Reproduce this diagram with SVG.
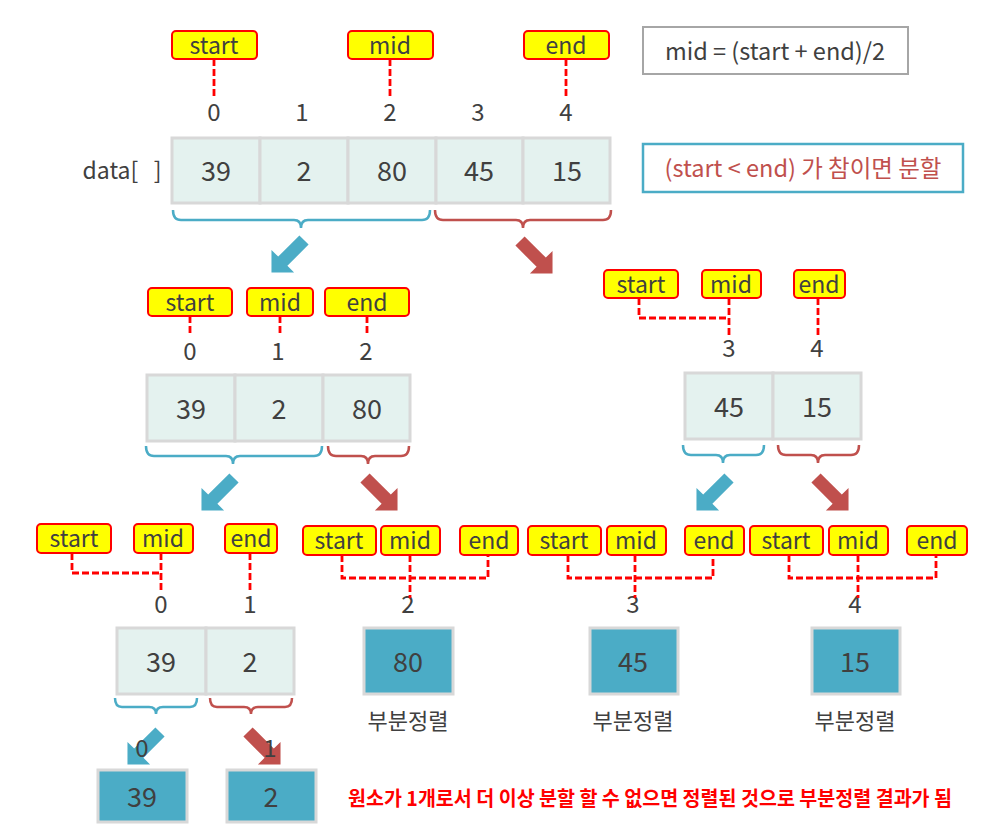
<svg xmlns="http://www.w3.org/2000/svg" width="989" height="832" viewBox="0 0 989 832">
<style>
text{font-family:"Noto Sans CJK KR","Noto Sans",sans-serif;fill:#404040;text-anchor:middle;dominant-baseline:central}
.lbl rect{fill:#FFFF00;stroke:#FF0000;stroke-width:2}
.lbl text{font-size:23px}
.dash{fill:none;stroke:#FF0000;stroke-width:2.8;stroke-dasharray:7 3}
.idx{font-size:24px}
.cell{fill:#E4F2EF;stroke:#D8D8D8;stroke-width:3}
.done{fill:#4BACC6;stroke:#D8D8D8;stroke-width:3}
.val{font-size:27px}
.bb{fill:none;stroke:#4BACC6;stroke-width:2.5}
.rb{fill:none;stroke:#C0504D;stroke-width:2.5}
.ba{fill:#4BACC6}
.ra{fill:#C0504D}
.kr{font-size:22px}
</style>
<defs>
<path id="arr" d="M0,-6.5 L30,-6.5 L30,-16 L46,0 L30,16 L30,6.5 L0,6.5 Z"/>
</defs>

<g id="formula">
<rect x="643" y="27" width="265" height="47" fill="#fff" stroke="#A6A6A6" stroke-width="2"/>
<text x="775" y="50" style="font-size:23.5px">mid = (start + end)/2</text>
</g>
<g id="condition">
<rect x="643" y="144" width="320" height="48" fill="#fff" stroke="#4BACC6" stroke-width="2.5"/>
<text x="803" y="167" style="font-size:23.5px;fill:#C0504D">(start &lt; end) 가 참이면 분할</text>
</g>

<!-- Level 1 -->
<g id="l1-labels">
<g class="lbl"><rect x="172" y="31" width="85" height="28" rx="4"/><text x="214" y="44">start</text></g>
<g class="lbl"><rect x="348" y="31" width="85" height="28" rx="4"/><text x="390" y="44">mid</text></g>
<g class="lbl"><rect x="524" y="31" width="85" height="28" rx="4"/><text x="566" y="44">end</text></g>
</g>
<g id="l1-index">
<text class="idx" x="214" y="110">0</text>
<text class="idx" x="302" y="110">1</text>
<text class="idx" x="390" y="110">2</text>
<text class="idx" x="478" y="110">3</text>
<text class="idx" x="566" y="110">4</text>
</g>
<g id="l1-array">
<text x="122" y="169" style="font-size:23px">data[&#160;&#160;&#160;]</text>
<rect class="cell" x="172" y="138" width="88" height="65"/>
<rect class="cell" x="260" y="138" width="88" height="65"/>
<rect class="cell" x="348" y="138" width="88" height="65"/>
<rect class="cell" x="436" y="138" width="87" height="65"/>
<rect class="cell" x="523" y="138" width="87" height="65"/>
<text class="val" x="216" y="169">39</text>
<text class="val" x="304" y="169">2</text>
<text class="val" x="392" y="169">80</text>
<text class="val" x="479" y="169">45</text>
<text class="val" x="567" y="169">15</text>
</g>

<!-- Level 2 left -->
<g id="l2a-labels">
<g class="lbl"><rect x="148" y="288" width="84" height="28" rx="4"/><text x="190" y="301">start</text></g>
<g class="lbl"><rect x="247" y="288" width="66" height="28" rx="4"/><text x="280" y="301">mid</text></g>
<g class="lbl"><rect x="325" y="288" width="84" height="28" rx="4"/><text x="367" y="301">end</text></g>
</g>
<g id="l2a-index">
<text class="idx" x="190" y="349">0</text>
<text class="idx" x="278" y="349">1</text>
<text class="idx" x="366" y="349">2</text>
</g>
<g id="l2a-array">
<rect class="cell" x="147" y="375" width="88" height="66"/>
<rect class="cell" x="235" y="375" width="88" height="66"/>
<rect class="cell" x="323" y="375" width="87" height="66"/>
<text class="val" x="191" y="407">39</text>
<text class="val" x="279" y="407">2</text>
<text class="val" x="367" y="407">80</text>
</g>

<!-- Level 2 right -->
<g id="l2b-labels">
<g class="lbl"><rect x="604" y="270" width="74" height="28" rx="4"/><text x="641" y="283">start</text></g>
<g class="lbl"><rect x="702" y="270" width="59" height="28" rx="4"/><text x="731" y="283">mid</text></g>
<g class="lbl"><rect x="794" y="270" width="51" height="28" rx="4"/><text x="819" y="283">end</text></g>
</g>
<g id="l2b-index">
<text class="idx" x="729" y="346">3</text>
<text class="idx" x="817" y="346">4</text>
</g>
<g id="l2b-array">
<rect class="cell" x="685" y="373" width="88" height="66"/>
<rect class="cell" x="773" y="373" width="88" height="66"/>
<text class="val" x="729" y="405">45</text>
<text class="val" x="817" y="405">15</text>
</g>

<!-- Level 3 groups -->
<g id="l3a-labels">
<g class="lbl"><rect x="37" y="524" width="74" height="29" rx="4"/><text x="74" y="537">start</text></g>
<g class="lbl"><rect x="134" y="524" width="59" height="29" rx="4"/><text x="163" y="537">mid</text></g>
<g class="lbl"><rect x="225" y="524" width="52" height="29" rx="4"/><text x="251" y="537">end</text></g>
</g>
<g id="l3b-labels">
<g class="lbl"><rect x="303" y="526" width="73" height="29" rx="4"/><text x="339" y="539">start</text></g>
<g class="lbl"><rect x="381" y="526" width="59" height="29" rx="4"/><text x="410" y="539">mid</text></g>
<g class="lbl"><rect x="460" y="526" width="58" height="29" rx="4"/><text x="489" y="539">end</text></g>
</g>
<g id="l3c-labels">
<g class="lbl"><rect x="528" y="526" width="73" height="29" rx="4"/><text x="564" y="539">start</text></g>
<g class="lbl"><rect x="607" y="526" width="59" height="29" rx="4"/><text x="636" y="539">mid</text></g>
<g class="lbl"><rect x="685" y="526" width="59" height="29" rx="4"/><text x="714" y="539">end</text></g>
</g>
<g id="l3d-labels">
<g class="lbl"><rect x="750" y="526" width="73" height="29" rx="4"/><text x="786" y="539">start</text></g>
<g class="lbl"><rect x="829" y="526" width="59" height="29" rx="4"/><text x="858" y="539">mid</text></g>
<g class="lbl"><rect x="907" y="526" width="60" height="29" rx="4"/><text x="937" y="539">end</text></g>
</g>
<g id="l3-index">
<text class="idx" x="161" y="602">0</text>
<text class="idx" x="250" y="602">1</text>
<text class="idx" x="408" y="602">2</text>
<text class="idx" x="633" y="602">3</text>
<text class="idx" x="855" y="602">4</text>
</g>
<g id="l3a-array">
<rect class="cell" x="117" y="628" width="89" height="66"/>
<rect class="cell" x="206" y="628" width="88" height="66"/>
<text class="val" x="161" y="660">39</text>
<text class="val" x="250" y="660">2</text>
</g>
<g id="l3b-sorted">
<rect class="done" x="364" y="628" width="89" height="66"/>
<text class="val" x="408" y="660">80</text>
<text class="kr" x="408" y="719">부분정렬</text>
</g>
<g id="l3c-sorted">
<rect class="done" x="590" y="628" width="88" height="66"/>
<text class="val" x="633" y="660">45</text>
<text class="kr" x="633" y="719">부분정렬</text>
</g>
<g id="l3d-sorted">
<rect class="done" x="812" y="628" width="88" height="66"/>
<text class="val" x="855" y="660">15</text>
<text class="kr" x="855" y="719">부분정렬</text>
</g>

<!-- Level 4 -->
<g id="l4-a">
<rect class="done" x="98" y="770" width="89" height="52"/>
<text class="val" x="142" y="795">39</text>
</g>
<g id="l4-b">
<rect class="done" x="227" y="770" width="89" height="52"/>
<text class="val" x="271" y="795">2</text>
</g>
<g id="note">
<text x="650" y="797" style="font-size:20px;font-weight:700;fill:#FF0000" textLength="604" lengthAdjust="spacingAndGlyphs">원소가 1개로서 더 이상 분할 할 수 없으면 정렬된 것으로 부분정렬 결과가 됨</text>
</g>

<g id="connectors">
<!-- dashed pointers -->
<path class="dash" d="M214,59 V98 M390,59 V98 M566,59 V98"/>
<path class="dash" d="M190,316 V336 M280,316 V336 M367,316 V336"/>
<path class="dash" d="M639,298 V318 H729 M729,298 V338 M818,298 V338"/>
<path class="dash" d="M72,553 V573 H161 M161,553 V593 M250,553 V593"/>
<path class="dash" d="M342,555 V578 H488 V555 M410,555 V598"/>
<path class="dash" d="M568,555 V578 H713 V555 M635,555 V598"/>
<path class="dash" d="M789,555 V578 H936 V555 M858,555 V598"/>
<!-- braces -->
<path class="bb" d="M173,210 Q173,220 181,220 L294,220 Q301,220 301,228 Q301,220 308,220 L422,220 Q430,220 430,210"/>
<path class="rb" d="M435,210 Q435,220 443,220 L516,220 Q523,220 523,228 Q523,220 530,220 L603,220 Q611,220 611,210"/>
<path class="bb" d="M146,446 Q146,456 154,456 L226,456 Q233,456 233,464 Q233,456 240,456 L314,456 Q322,456 322,446"/>
<path class="rb" d="M328,446 Q328,456 336,456 L361,456 Q368,456 368,464 Q368,456 375,456 L401,456 Q409,456 409,446"/>
<path class="bb" d="M683,445 Q683,455 691,455 L716,455 Q723,455 723,463 Q723,455 730,455 L756,455 Q764,455 764,445"/>
<path class="rb" d="M778,445 Q778,455 786,455 L811,455 Q818,455 818,463 Q818,455 825,455 L851,455 Q859,455 859,445"/>
<path class="bb" d="M115,698 Q115,707 122,707 L149,707 Q156,707 156,714 Q156,707 163,707 L190,707 Q197,707 197,698"/>
<path class="rb" d="M210,698 Q210,707 217,707 L244,707 Q251,707 251,714 Q251,707 258,707 L285,707 Q292,707 292,698"/>
<!-- block arrows -->
<use href="#arr" class="ba" transform="translate(304,240) rotate(135)"/>
<use href="#arr" class="ra" transform="translate(520,241) rotate(45)"/>
<use href="#arr" class="ba" transform="translate(234,478) rotate(135)"/>
<use href="#arr" class="ra" transform="translate(365,478) rotate(45)"/>
<use href="#arr" class="ba" transform="translate(729,478) rotate(135)"/>
<use href="#arr" class="ra" transform="translate(816,478) rotate(45)"/>
<use href="#arr" class="ba" transform="translate(160,732) rotate(135)"/>
<use href="#arr" class="ra" transform="translate(248,732) rotate(45)"/>
</g>
<g id="l4-index">
<text class="idx" x="142" y="746">0</text>
<text class="idx" x="270" y="746">1</text>
</g>
</svg>
